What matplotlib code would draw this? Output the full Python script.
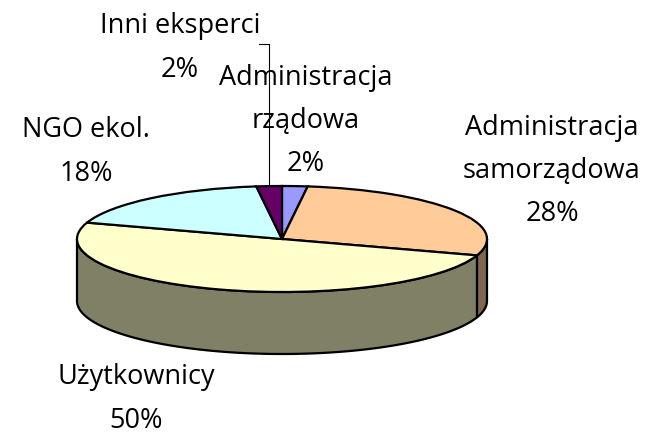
import numpy as np
import matplotlib.pyplot as plt

# slice data (clockwise from 12 o'clock)
names = ["Administracja\nrządowa", "Administracja\nsamorządowa", "Użytkownicy", "NGO ekol.", "Inni eksperci"]
shares = [2, 28, 50, 18, 2]
top_colors = ["#9999FF", "#FFCC99", "#FFFFCC", "#CCFFFF", "#660066"]
side_colors = ["#4C4C80", "#80664C", "#808066", "#668080", "#330033"]

# layout (pixels of the 645x435 picture)
W, H = 645, 435
cx, cy, a, b, depth = 282, 240, 205, 53, 62
label_pos = [(306, 121), (552, 171), (136, 399), (86, 152), (180, 48)]


def to_data(px, py):
    return (px - cx) / a, (cy - py) / b


fig = plt.figure(figsize=(W / 100, H / 100), dpi=100)
ax = fig.add_axes([0, 0, 1, 1])
t = depth / b  # thickness in y data units

# side walls, only the front half is visible
cum = np.cumsum([0] + shares) / sum(shares)
for i, col in enumerate(side_colors):
    th1 = 90 - 360 * cum[i + 1]
    th2 = 90 - 360 * cum[i]
    for shift in (-360, 0, 360):
        lo = max(th1 + shift, -180)
        hi = min(th2 + shift, 0)
        if lo < hi:
            th = np.radians(np.linspace(lo, hi, 120))
            xs = np.cos(th)
            ys = np.sin(th)
            ax.fill(np.r_[xs, xs[::-1]], np.r_[ys, ys[::-1] - t],
                    facecolor=col, edgecolor="black", linewidth=1.6, zorder=1)

# top face
ax.pie(shares, colors=top_colors, startangle=90, counterclock=False, radius=1,
       wedgeprops=dict(edgecolor="black", linewidth=1.6, zorder=2))

# leader line for the small "Inni eksperci" slice
mid = np.radians(90 - 360 * (cum[-2] + cum[-1]) / 2)
lx = np.cos(mid)
x0, ytop = to_data(0, 45)
ax.plot([lx - 10 / a, lx, lx], [ytop, ytop, np.sin(mid)], color="black", lw=0.8, zorder=3)

# labels
for name, val, (px, py) in zip(names, shares, label_pos):
    x, y = to_data(px, py)
    ax.text(x, y, f"{name}\n{val}%", ha="center", va="center", fontsize=19.5,
            family="Open Sans", linespacing=1.72, zorder=4)

ax.set_xlim(to_data(0, 0)[0], to_data(W, 0)[0])
ax.set_ylim(to_data(0, H)[1], to_data(0, 0)[1])
ax.set_aspect("auto")
ax.axis("off")

fig.savefig("out.png", dpi=100)
